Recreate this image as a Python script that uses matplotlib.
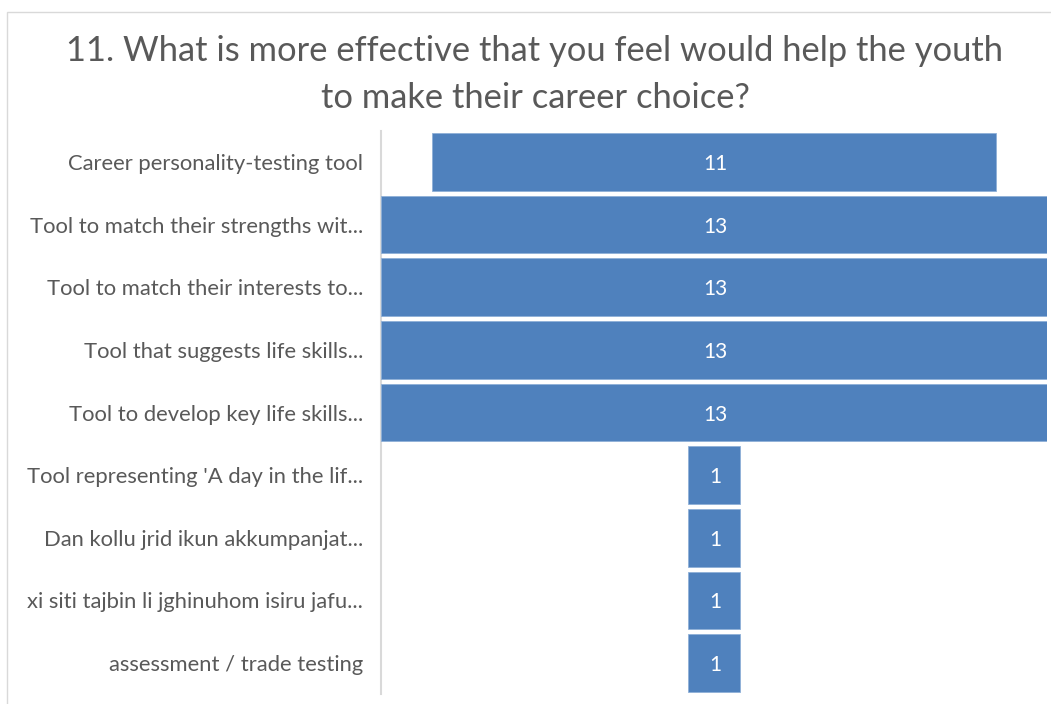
import matplotlib.pyplot as plt

plt.rcParams['font.family'] = ['Lato', 'DejaVu Sans']

title_lines = ["11. What is more effective that you feel would help the youth",
               "to make their career choice?"]
categories = [
    "Career personality-testing tool",
    "Tool to match their strengths wit...",
    "Tool to match their interests to...",
    "Tool that suggests life skills...",
    "Tool to develop key life skills...",
    "Tool representing 'A day in the lif...",
    "Dan kollu jrid ikun akkumpanjat...",
    "xi siti tajbin li jghinuhom isiru jafu...",
    "assessment / trade testing",
]
counts = [11, 13, 13, 13, 13, 1, 1, 1, 1]

bar_color = "#4F81BD"
text_color = "#595959"
W, H = 1051, 704

fig = plt.figure(figsize=(W / 100, H / 100), dpi=100)
ax = fig.add_axes([0.3625, 0.0138, 0.6337, 0.8005])

# funnel: every bar centred on zero
ypos = list(range(len(counts)))
lefts = [-v / 2 for v in counts]
ax.barh(ypos, counts, left=lefts, height=0.92, color=bar_color,
        edgecolor="#8fb0d8", linewidth=0.6)

for y, v in zip(ypos, counts):
    ax.text(0.03, y, str(v), ha="center", va="center_baseline", color="white",
            fontsize=15)

ax.set_xlim(-6.5, 6.5)
ax.set_ylim(len(counts) - 0.5, -0.5)
ax.set_yticks(ypos)
ax.set_yticklabels(categories, fontsize=15.8, color=text_color)
ax.tick_params(axis="y", length=0, pad=13)
ax.set_xticks([])

for s in ["top", "right", "bottom"]:
    ax.spines[s].set_visible(False)
ax.spines["left"].set_color("#D9D9D9")
ax.spines["left"].set_linewidth(1.5)
ax.spines["left"].set_zorder(0)

for line, ypx in zip(title_lines, [51, 98]):
    fig.text(535 / W, 1 - ypx / H, line, ha="center", va="center",
             fontsize=24.8, color=text_color)

# outer chart frame
fig.patches.append(plt.Rectangle((7 / W, -0.01), 1.2, 1 - 12 / H + 0.01,
                                 transform=fig.transFigure, fill=False,
                                 edgecolor="#D9D9D9", linewidth=1))

fig.savefig("out.png", dpi=100)
